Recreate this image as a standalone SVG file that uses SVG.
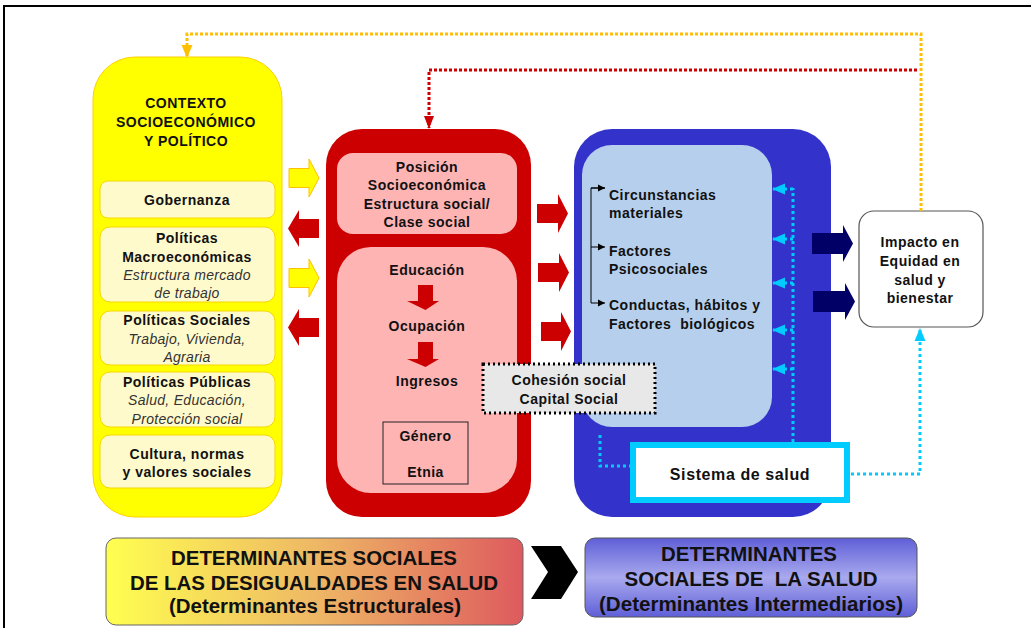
<svg xmlns="http://www.w3.org/2000/svg" width="1031" height="628" viewBox="0 0 1031 628">
<style>
text{font-family:"Liberation Sans",Arial,sans-serif;fill:#111;text-anchor:middle}
.b{font-weight:bold;font-size:14px;letter-spacing:0.5px}
.i{font-style:italic;font-size:14px;fill:#333;letter-spacing:0.3px}
.l{text-anchor:start}
.big{font-family:"Liberation Sans Narrow","Liberation Sans",Arial,sans-serif;font-weight:bold;font-size:20px}
.cream{fill:#FFFACC;stroke:#F5D800;stroke-width:1}
.ya{fill:#FFFF00;stroke:#FFC000;stroke-width:1}
.ra{fill:#CC0000}
.na{fill:#000066}
.cy{fill:none;stroke:#00CCFF;stroke-width:3;stroke-dasharray:3 3}
</style>
<defs>
<marker id="mo" markerUnits="userSpaceOnUse" markerWidth="14" markerHeight="14" refX="7" refY="12" orient="auto" viewBox="0 0 14 14">
<path d="M1,0 L13,0 L7,13 Z" fill="#FFC000" transform="rotate(-90 7 7)"/></marker>
<marker id="mr" markerUnits="userSpaceOnUse" markerWidth="14" markerHeight="14" refX="12" refY="7" orient="auto" viewBox="0 0 14 14">
<path d="M0,2 L13,7 L0,12 Z" fill="#CC0000"/></marker>
<marker id="my" markerUnits="userSpaceOnUse" markerWidth="14" markerHeight="14" refX="12" refY="7" orient="auto" viewBox="0 0 14 14">
<path d="M0,1.5 L13,7 L0,12.5 Z" fill="#FFC000"/></marker>
<marker id="mcy" markerUnits="userSpaceOnUse" markerWidth="14" markerHeight="14" refX="12" refY="7" orient="auto" viewBox="0 0 14 14">
<path d="M0,1.5 L13,7 L0,12.5 Z" fill="#00CCFF"/></marker>
<marker id="mk" markerUnits="userSpaceOnUse" markerWidth="8" markerHeight="8" refX="7" refY="4" orient="auto" viewBox="0 0 8 8">
<path d="M0,0.5 L7,4 L0,7.5 Z" fill="#000"/></marker>
<linearGradient id="gl" x1="0" y1="0" x2="1" y2="0">
<stop offset="0" stop-color="#FFFF50"/><stop offset="0.5" stop-color="#EEB865"/><stop offset="1" stop-color="#DE5A5E"/></linearGradient>
<linearGradient id="gr" x1="0" y1="0" x2="0" y2="1">
<stop offset="0" stop-color="#5F5FD8"/><stop offset="0.5" stop-color="#A9A9EE"/><stop offset="1" stop-color="#5F5FD8"/></linearGradient>
</defs>

<rect x="4" y="6" width="1040" height="640" fill="#fff" stroke="#000" stroke-width="2"/>

<g id="contexto">
<rect x="93" y="57" width="189" height="460" rx="42" fill="#FFFF00" stroke="#FFD000" stroke-width="1"/>
<text class="b" x="186" y="108">CONTEXTO</text>
<text class="b" x="186" y="127">SOCIOECONÓMICO</text>
<text class="b" x="186" y="146">Y POLÍTICO</text>
</g>
<g id="gobernanza">
<rect class="cream" x="100" y="181" width="175" height="37" rx="8"/>
<text class="b" x="187" y="205">Gobernanza</text>
</g>
<g id="politicas-macro">
<rect class="cream" x="100" y="227" width="175" height="75" rx="10"/>
<text class="b" x="187" y="243">Políticas</text>
<text class="b" x="187" y="262">Macroeconómicas</text>
<text class="i" x="187" y="280">Estructura mercado</text>
<text class="i" x="187" y="298">de trabajo</text>
</g>
<g id="politicas-sociales">
<rect class="cream" x="100" y="311" width="175" height="54" rx="10"/>
<text class="b" x="187" y="325">Políticas Sociales</text>
<text class="i" x="187" y="344">Trabajo, Vivienda,</text>
<text class="i" x="187" y="362">Agraria</text>
</g>
<g id="politicas-publicas">
<rect class="cream" x="100" y="372" width="175" height="55" rx="10"/>
<text class="b" x="187" y="387">Políticas Públicas</text>
<text class="i" x="187" y="405">Salud, Educación,</text>
<text class="i" x="187" y="424">Protección social</text>
</g>
<g id="cultura">
<rect class="cream" x="100" y="435" width="175" height="53" rx="10"/>
<text class="b" x="187" y="459">Cultura, normas</text>
<text class="b" x="187" y="477">y valores sociales</text>
</g>

<g id="posicion">
<rect x="326" y="129" width="205" height="388" rx="36" fill="#CC0000"/>
<rect x="337" y="153" width="180" height="81" rx="16" fill="#FFB4B4"/>
<text class="b" x="427" y="172">Posición</text>
<text class="b" x="427" y="190">Socioeconómica</text>
<text class="b" x="427" y="209">Estructura social/</text>
<text class="b" x="427" y="227">Clase social</text>
<rect x="337" y="247" width="180" height="246" rx="34" fill="#FFB4B4"/>
<text class="b" x="427" y="275">Educación</text>
<text class="b" x="427" y="331">Ocupación</text>
<text class="b" x="427" y="386">Ingresos</text>
<polygon class="ra" points="418,285 433,285 433,301 439,301 425.5,310 407,301 418,301"/>
<polygon class="ra" points="418,342 433,342 433,359 439,359 425.5,367 407,359 418,359"/>
</g>
<g id="genero-etnia">
<rect x="383" y="422" width="85" height="62" fill="#FFB4B4" stroke="#222" stroke-width="1"/>
<text class="b" x="425.5" y="441">Género</text>
<text class="b" x="425.5" y="477">Etnia</text>
</g>

<g id="intermedios">
<rect x="574" y="129" width="257" height="388" rx="38" fill="#3333CC"/>
<rect x="582" y="145" width="190" height="282" rx="30" fill="#B6CFEC"/>
<text class="b l" x="609" y="200">Circunstancias</text>
<text class="b l" x="609" y="218">materiales</text>
<text class="b l" x="609" y="256">Factores</text>
<text class="b l" x="609" y="274">Psicosociales</text>
<text class="b l" x="609" y="310">Conductas, hábitos y</text>
<text class="b l" x="609" y="329" xml:space="preserve">Factores  biológicos</text>
<path d="M605,188 H591 V303 H605" fill="none" stroke="#000" stroke-width="1" marker-end="url(#mk)"/>
<path d="M591,188 H605" fill="none" stroke="#000" stroke-width="1" marker-end="url(#mk)"/>
<path d="M591,247 H605" fill="none" stroke="#000" stroke-width="1" marker-end="url(#mk)"/>
</g>

<g id="cohesion">
<rect x="483" y="364" width="172" height="49" fill="#E8E8E8" stroke="#000" stroke-width="3" stroke-dasharray="2 3"/>
<text class="b" x="569" y="385">Cohesión social</text>
<text class="b" x="569" y="404">Capital Social</text>
</g>

<g id="sistema-salud">
<rect x="633" y="445" width="214" height="55" fill="#fff" stroke="#00CCFF" stroke-width="6"/>
<text class="b" x="740" y="480" style="font-size:16px;letter-spacing:0.6px">Sistema de salud</text>
</g>

<g id="impacto">
<rect x="859" y="211" width="124" height="116" rx="15" fill="#fff" stroke="#555" stroke-width="1.2"/>
<text class="b" x="920" y="247">Impacto en</text>
<text class="b" x="920" y="266">Equidad en</text>
<text class="b" x="920" y="285">salud y</text>
<text class="b" x="920" y="303">bienestar</text>
</g>

<g id="connectors">
<polygon class="ya" points="289,168.5 309,168.5 309,159 319,178 309,197 309,187.5 289,187.5"/>
<polygon class="ya" points="289,268.5 309,268.5 309,259 319,278 309,297 309,287.5 289,287.5"/>
<polygon class="ra" points="319,219 299,219 299,210 288,228.5 299,247 299,238 319,238"/>
<polygon class="ra" points="319,318 299,318 299,309 288,327.5 299,346 299,337 319,337"/>
<polygon class="ra" points="537,204 558,204 558,194 568,213.5 558,233 558,223 537,223"/>
<polygon class="ra" points="538,263 559,263 559,253 569,272.5 559,292 559,282 538,282"/>
<polygon class="ra" points="541,322 561,322 561,312 571,331.5 561,351 561,341 541,341"/>
<polygon class="na" points="812,233 843,233 843,225 853,243.5 843,262 843,254 812,254"/>
<polygon class="na" points="813,291 845,291 845,283 855,301.5 845,320 845,312 813,312"/>
<path d="M921,211 V34 H187 V57" fill="none" stroke="#FFC000" stroke-width="3" stroke-dasharray="3 2" marker-end="url(#my)"/>
<path d="M917,70 H429 V128" fill="none" stroke="#CC0000" stroke-width="3" stroke-dasharray="3 2" marker-end="url(#mr)"/>
<path class="cy" d="M793,442 V188"/>
<path class="cy" d="M793,189 H773" marker-end="url(#mcy)"/>
<path class="cy" d="M793,239 H773" marker-end="url(#mcy)"/>
<path class="cy" d="M793,283 H773" marker-end="url(#mcy)"/>
<path class="cy" d="M793,330 H773" marker-end="url(#mcy)"/>
<path class="cy" d="M793,369 H773" marker-end="url(#mcy)"/>
<path class="cy" d="M600,435 V466 H630"/>
<path class="cy" d="M851,474 H920 V329" marker-end="url(#mcy)"/>
<polygon points="531,546 561,546 578,572 561,599 531,599 548,572" fill="#000"/>
</g>

<g id="estructurales">
<rect x="106" y="538" width="417" height="87" rx="10" fill="url(#gl)" stroke="#666" stroke-width="1"/>
<text class="big" x="314" y="565" textLength="286" lengthAdjust="spacingAndGlyphs">DETERMINANTES SOCIALES</text>
<text class="big" x="314" y="590" textLength="368" lengthAdjust="spacingAndGlyphs">DE LAS DESIGUALDADES EN SALUD</text>
<text class="big" x="315" y="613" textLength="292" lengthAdjust="spacingAndGlyphs">(Determinantes Estructurales)</text>
</g>
<g id="intermediarios">
<rect x="585" y="538" width="332" height="79" rx="10" fill="url(#gr)" stroke="#555" stroke-width="1"/>
<text class="big" x="749" y="561" textLength="176" lengthAdjust="spacingAndGlyphs">DETERMINANTES</text>
<text class="big" x="751" y="586" textLength="253" lengthAdjust="spacingAndGlyphs" xml:space="preserve">SOCIALES DE  LA SALUD</text>
<text class="big" x="751" y="611" textLength="304" lengthAdjust="spacingAndGlyphs">(Determinantes Intermediarios)</text>
</g>
</svg>
